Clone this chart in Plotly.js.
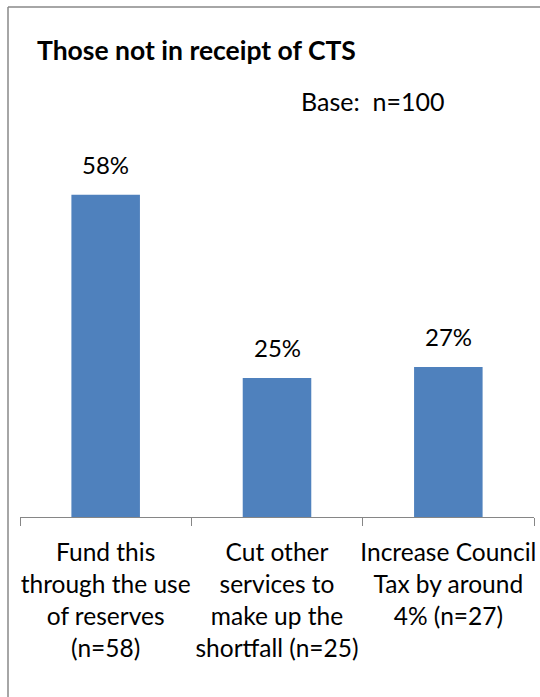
<!DOCTYPE html>
<html>
<head>
<meta charset="utf-8">
<script src="https://cdn.plot.ly/plotly-3.0.1.min.js"></script>
<style>
  html, body { margin: 0; padding: 0; background: #fff; }
  #chart { width: 540px; height: 697px; }
</style>
</head>
<body>
<div id="chart"></div>
<script>
// Responses to how the shortfall should be met
const categories = [
  'Fund this<br>through the use<br>of reserves<br>(n=58)',
  'Cut other<br>services to<br>make up the<br>shortfall (n=25)',
  'Increase Council<br>Tax by around<br>4% (n=27)'
];
const percentages = [58, 25, 27];

const W = 540, H = 697;
const margin = { l: 20, r: 6, t: 128, b: 180 };
const plotW = W - margin.l - margin.r;
const plotH = H - margin.t - margin.b;
const FONT = 'Lato, "Open Sans", sans-serif';

// convert page pixels to paper coordinates for the frame and note
const px = x => (x - margin.l) / plotW;
const py = y => (H - margin.b - y) / plotH;

const trace = {
  type: 'bar',
  x: categories,
  y: percentages,
  marker: { color: '#4F81BD' },
  hoverinfo: 'skip'
};

const valueLabels = categories.map((c, i) => ({
  x: c,
  y: percentages[i],
  xref: 'x',
  yref: 'y',
  text: percentages[i] + '%',
  showarrow: false,
  yanchor: 'bottom',
  yshift: 14,
  font: { family: FONT, size: 24, color: '#000' }
}));

const layout = {
  width: W,
  height: H,
  margin: margin,
  paper_bgcolor: '#fff',
  plot_bgcolor: '#fff',
  showlegend: false,
  bargap: 0.6,
  title: {
    text: '<b>Those not in receipt of CTS</b>',
    font: { family: FONT, size: 26.5, color: '#000' },
    xref: 'container', yref: 'container',
    x: 37 / W, xanchor: 'left',
    y: 1 - 51 / H, yanchor: 'middle'
  },
  xaxis: {
    type: 'category',
    showline: true,
    linecolor: '#868686',
    linewidth: 1,
    ticks: 'outside',
    tickson: 'boundaries',
    ticklen: 8,
    tickcolor: '#868686',
    tickangle: 0,
    ticklabelstandoff: 14,
    tickfont: { family: FONT, size: 24.5, color: '#000' },
    showgrid: false,
    zeroline: false,
    fixedrange: true
  },
  yaxis: {
    range: [0, 70],
    visible: false,
    fixedrange: true
  },
  annotations: valueLabels.concat([{
    xref: 'paper', yref: 'paper',
    x: px(299), y: py(101),
    xanchor: 'left', yanchor: 'middle',
    text: 'Base:&nbsp; n=100',
    showarrow: false,
    font: { family: FONT, size: 25, color: '#000' }
  }]),
  shapes: [
    {
      type: 'line', xref: 'paper', yref: 'paper',
      x0: px(8), x1: px(8), y0: py(7), y1: py(H + 20),
      line: { color: '#888888', width: 1.5 }
    },
    {
      type: 'line', xref: 'paper', yref: 'paper',
      x0: px(8), x1: px(W + 20), y0: py(7), y1: py(7),
      line: { color: '#888888', width: 1.5 }
    }
  ]
};

Plotly.newPlot('chart', [trace], layout, { staticPlot: true, displayModeBar: false });
</script>
</body>
</html>
